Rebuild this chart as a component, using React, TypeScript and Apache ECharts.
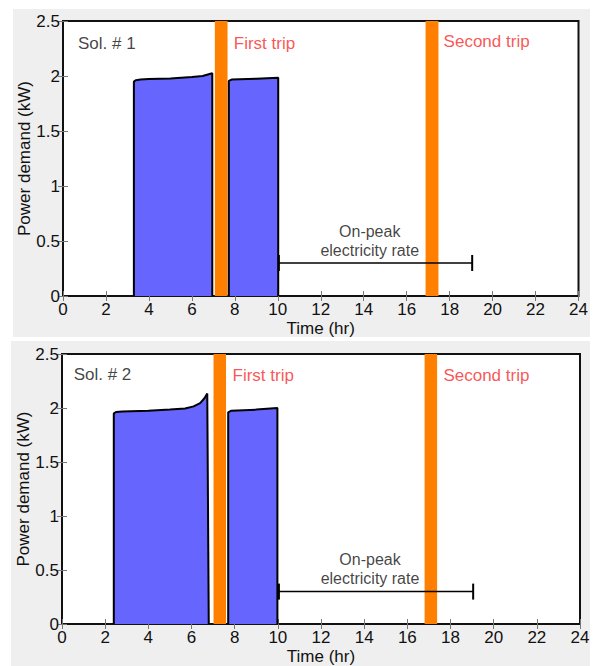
import React, { useEffect, useRef } from "react";
import * as echarts from "echarts";

// ---- data ----
const xTicks = [0, 2, 4, 6, 8, 10, 12, 14, 16, 18, 20, 22, 24];
const yTicks = [0, 0.5, 1, 1.5, 2, 2.5];

// Solution 1 charging blocks [time(hr), power(kW)]
const sol1Block1 = [[3.3, 0], [3.3, 1.95], [3.4, 1.962], [3.6, 1.968], [4, 1.972], [5, 1.978], [6, 1.99], [6.5, 2.0], [6.95, 2.025], [6.95, 0]];
const sol1Block2 = [[7.72, 0], [7.72, 1.955], [7.85, 1.968], [9, 1.975], [10.02, 1.985], [10.02, 0]];
// Solution 2 charging blocks
const sol2Block1 = [[2.4, 0], [2.4, 1.95], [2.5, 1.962], [2.8, 1.968], [4, 1.975], [5, 1.985], [5.7, 1.995], [6.1, 2.015], [6.4, 2.045], [6.6, 2.09], [6.73, 2.135], [6.8, 0]];
const sol2Block2 = [[7.7, 0], [7.7, 1.96], [7.85, 1.975], [9, 1.985], [9.98, 2.0], [9.98, 0]];

// trips [start, end] (hr)
const sol1Trips = [[7.07, 7.66], [16.88, 17.48]];
const sol2Trips = [[7.02, 7.6], [16.8, 17.38]];

// on-peak electricity rate interval
const onPeak = [10.05, 19.05];
const onPeakLevel = 0.3;

const panelTitles = ["Sol. # 1", "Sol. # 2"];
const tripNames = ["First trip", "Second trip"];
const onPeakText = "On-peak\nelectricity rate";

const FONT = "'Liberation Sans', Arial, sans-serif";
const BLUE = "#6666ff";
const ORANGE = "#ff8000";
const RED = "#f72a2a";
const INK = "#111";

export default function App() {
  const ref = useRef<HTMLDivElement>(null);
  useEffect(() => {
    if (!ref.current) return;
    const chart = echarts.init(ref.current, null, { renderer: "svg" });

    const grids = [
      { left: 63, right: 19.5, top: 21, height: 275 },
      { left: 62, right: 18, top: 354, height: 273.7 },
    ];
    const blocks = [[sol1Block1, sol1Block2], [sol2Block1, sol2Block2]];
    const trips = [sol1Trips, sol2Trips];
    const labelPos = [
      { title: [0.7, 2.3], trip1: [7.95, 2.3], trip2: [17.72, 2.31], peak: [14.28, 0.5] },
      { title: [0.54, 2.31], trip1: [7.9, 2.3], trip2: [17.67, 2.3], peak: [14.27, 0.505] },
    ];

    const xAxis: any[] = [];
    const yAxis: any[] = [];
    const series: any[] = [];
    grids.forEach((g, i) => {
      xAxis.push({
        type: "value", gridIndex: i, min: 0, max: 24, interval: 2,
        position: "bottom",
        name: "Time (hr)", nameLocation: "middle", nameGap: 24, nameMoveOverlap: false,
        nameTextStyle: { fontFamily: FONT, fontSize: 17, color: INK },
        axisLine: { show: false },
        axisTick: { inside: true, length: 5, lineStyle: { color: "#777", width: 1 } },
        axisLabel: { fontFamily: FONT, fontSize: 17, color: INK, margin: 5 },
        splitLine: { show: false },
      });
      xAxis.push({
        type: "value", gridIndex: i, min: 0, max: 24, interval: 2, position: "top",
        axisLine: { show: false },
        axisTick: { inside: true, length: 5, lineStyle: { color: "#777", width: 1 } },
        axisLabel: { show: false }, splitLine: { show: false },
      });
      yAxis.push({
        type: "value", gridIndex: i, min: 0, max: 2.5, interval: 0.5,
        position: "left",
        name: "Power demand (kW)", nameLocation: "middle", nameGap: 30, nameMoveOverlap: false,
        nameTextStyle: { fontFamily: FONT, fontSize: 17, color: INK },
        axisLine: { show: false },
        axisTick: { inside: true, length: 5, lineStyle: { color: "#777", width: 1 } },
        axisLabel: { fontFamily: FONT, fontSize: 17, color: INK, margin: 3 },
        splitLine: { show: false },
      });
      yAxis.push({
        type: "value", gridIndex: i, min: 0, max: 2.5, interval: 0.5, position: "right",
        axisLine: { show: false },
        axisTick: { inside: true, length: 5, lineStyle: { color: "#777", width: 1 } },
        axisLabel: { show: false }, splitLine: { show: false },
      });
      const xi = i * 2;
      const yi = i * 2;
      // trips (orange bands)
      series.push({
        type: "line", xAxisIndex: xi, yAxisIndex: yi, data: [], silent: true,
        markArea: {
          silent: true,
          itemStyle: { color: ORANGE, opacity: 1 },
          data: trips[i].map((t) => [{ xAxis: t[0] }, { xAxis: t[1] }]),
        },
      });
      blocks[i].forEach((b) => {
        series.push({
          type: "line", xAxisIndex: xi, yAxisIndex: yi, data: b,
          symbol: "none", smooth: false,
          lineStyle: { color: "#000", width: 2 },
          areaStyle: { color: BLUE, opacity: 1 },
          z: 3,
        });
      });
      // on-peak interval
      series.push({
        type: "line", xAxisIndex: xi, yAxisIndex: yi,
        data: onPeak.map((x) => [x, onPeakLevel]),
        symbol: "rect", symbolSize: [2, 16],
        itemStyle: { color: "#000" },
        lineStyle: { color: "#000", width: 1.5 },
        z: 4,
      });
      // text annotations
      const lp = labelPos[i];
      const txt = (pos: number[], text: string, color: string, position: string, align: string) => ({
        value: pos,
        label: {
          show: true, formatter: text, position, distance: 0, color,
          fontFamily: FONT, fontSize: position === "inside" ? 16 : 17, align, lineHeight: 19,
        },
      });
      series.push({
        type: "scatter", xAxisIndex: xi, yAxisIndex: yi, symbolSize: 0, silent: true, z: 5,
        data: [
          txt(lp.title, panelTitles[i], INK, "right", "left"),
          txt(lp.trip1, tripNames[0], RED, "right", "left"),
          txt(lp.trip2, tripNames[1], RED, "right", "left"),
          txt(lp.peak, onPeakText, INK, "inside", "center"),
        ],
      });
    });

    chart.setOption({
      animation: false,
      graphic: [
        { type: "rect", z: -10, shape: { x: 13, y: 9, width: 577, height: 328 }, style: { fill: "#efefef" } },
        { type: "rect", z: -10, shape: { x: 11, y: 341, width: 579, height: 325 }, style: { fill: "#efefef" } },
      ],
      grid: grids.map((g) => ({
        ...g, show: true, backgroundColor: "#fff", borderColor: "#111", borderWidth: 2,
      })),
      xAxis, yAxis, series,
    });
    return () => chart.dispose();
  }, []);
  return (
    <div
      ref={ref}
      style={{ position: "absolute", left: 0, top: 0, width: 598, height: 666, background: "#fff" }}
    />
  );
}
